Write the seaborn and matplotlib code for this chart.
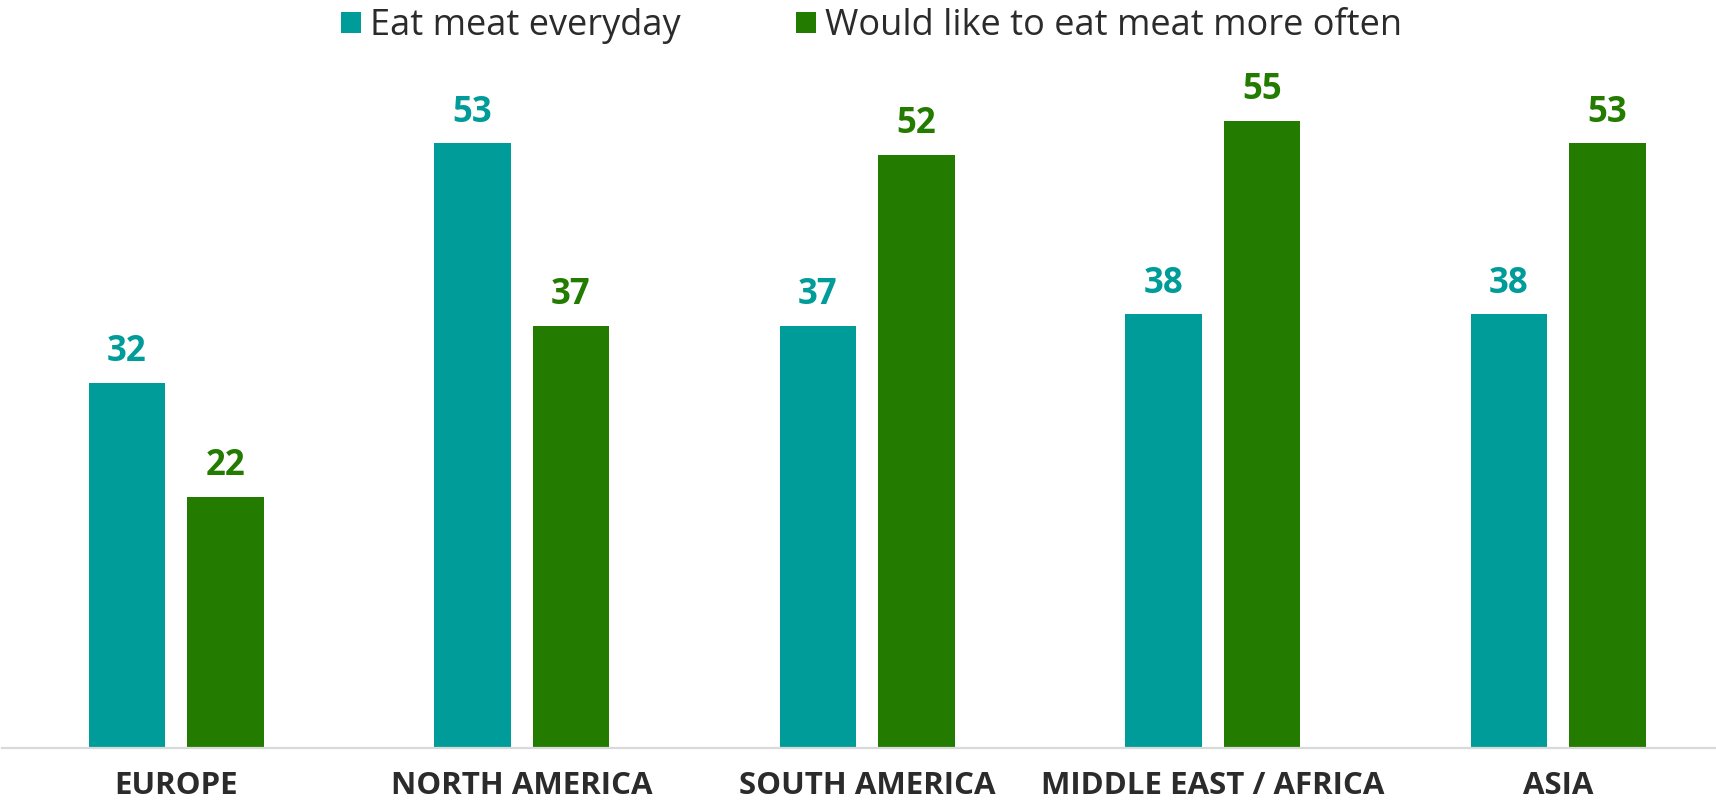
import matplotlib
matplotlib.use("Agg")
import matplotlib.pyplot as plt
import seaborn as sns
import pandas as pd

regions = ["EUROPE", "NORTH AMERICA", "SOUTH AMERICA", "MIDDLE EAST / AFRICA", "ASIA"]
series_names = ["Eat meat everyday", "Would like to eat meat more often"]
eat_daily = [32, 53, 37, 38, 38]
want_more = [22, 37, 52, 55, 53]

teal = "#009C99"
green = "#237B00"
palette = {series_names[0]: teal, series_names[1]: green}

df = pd.DataFrame({
    "region": regions * 2,
    "series": [series_names[0]] * len(regions) + [series_names[1]] * len(regions),
    "value": eat_daily + want_more,
})

sns.set_theme(style="white")
plt.rcParams["font.family"] = ["Open Sans", "DejaVu Sans"]

W, H = 1716, 808
unit = 345.5      # horizontal pixels per category
first = 176.2     # pixel centre of the first category
base = 747.5      # pixel row of the baseline
per_val = 11.4    # vertical pixels per percentage point

fig = plt.figure(figsize=(W / 100, H / 100), dpi=100)
ax = fig.add_axes([0, 1 - base / H, 1, 60 * per_val / H])

sns.barplot(data=df, x="region", y="value", hue="series", order=regions,
            hue_order=series_names, palette=palette, width=0.57, gap=0.223,
            saturation=1, ax=ax, legend=True, linewidth=0)

ax.set_ylim(0, 60)
ax.set_xlim(-first / unit, (W - first) / unit)

for container, color in zip(ax.containers, [teal, green]):
    ax.bar_label(container, fmt="%d", padding=9, color=color,
                 fontsize=25, fontweight="bold")

ax.set_xlabel("")
ax.set_ylabel("")
ax.set_yticks([])
for side in ["top", "right", "left"]:
    ax.spines[side].set_visible(False)
ax.spines["bottom"].set_color("#d9d9d9")
ax.spines["bottom"].set_linewidth(1.6)
ax.spines["bottom"].set_bounds(-first / unit + 2 / unit, (W - first) / unit)
ax.tick_params(axis="x", length=0, pad=17, labelsize=22.5, labelcolor="#2b2b2b")
for lbl in ax.get_xticklabels():
    lbl.set_fontweight("bold")

handles, labels = ax.get_legend_handles_labels()
ax.get_legend().remove()
fig.legend(handles, labels, loc="upper center", bbox_to_anchor=(0.508, 1.03),
           ncol=2, frameon=False, fontsize=26, handlelength=0.55,
           handleheight=0.55, handletextpad=0.25, columnspacing=3.2,
           labelcolor="#2b2b2b")

fig.savefig("out.png", dpi=100)
